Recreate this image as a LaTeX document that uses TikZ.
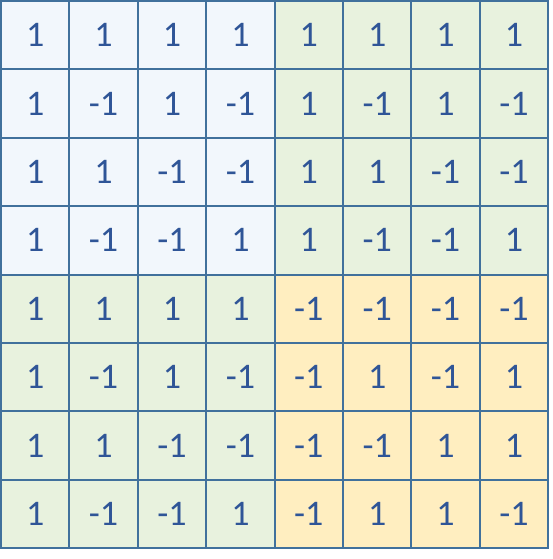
\documentclass[tikz,border=0pt]{standalone}
\usepackage{fontspec}
\setmainfont{Carlito}
\definecolor{gridline}{HTML}{41719C}
\definecolor{numtext}{HTML}{2F5597}
\definecolor{qblue}{HTML}{F2F7FC}
\definecolor{qgreen}{HTML}{E8F2DE}
\definecolor{qyellow}{HTML}{FFEEC0}
\tikzset{
  cell/.style={draw=gridline, line width=2pt, minimum width=68.4pt, minimum height=68.4pt,
    inner sep=0pt, anchor=center, text=numtext, font=\fontsize{36}{40}\selectfont},
}
\begin{document}
\begin{tikzpicture}[x=1pt,y=-1pt]
\useasboundingbox (0,0) rectangle (553,559);
\fill[white] (0,0) rectangle (553,559);
\def\cs{68.4}
\foreach \row/\vals in {1/{1,1,1,1,1,1,1,1},2/{1,-1,1,-1,1,-1,1,-1},3/{1,1,-1,-1,1,1,-1,-1},4/{1,-1,-1,1,1,-1,-1,1},5/{1,1,1,1,-1,-1,-1,-1},6/{1,-1,1,-1,-1,1,-1,1},7/{1,1,-1,-1,-1,-1,1,1},8/{1,-1,-1,1,-1,1,1,-1}}{
  \foreach \v [count=\col] in \vals {
    \pgfmathsetmacro{\cx}{1+(\col-0.5)*\cs}
    \pgfmathsetmacro{\cy}{1+(\row-0.5)*\cs}
    \pgfmathtruncatemacro{\qd}{(\row>4)*2+(\col>4)}
    \ifcase\qd\def\fc{qblue}\or\def\fc{qgreen}\or\def\fc{qgreen}\else\def\fc{qyellow}\fi
    \node[cell, fill=\fc] (c-\row-\col) at (\cx,\cy) {\v};
  }
}
\end{tikzpicture}
\end{document}
